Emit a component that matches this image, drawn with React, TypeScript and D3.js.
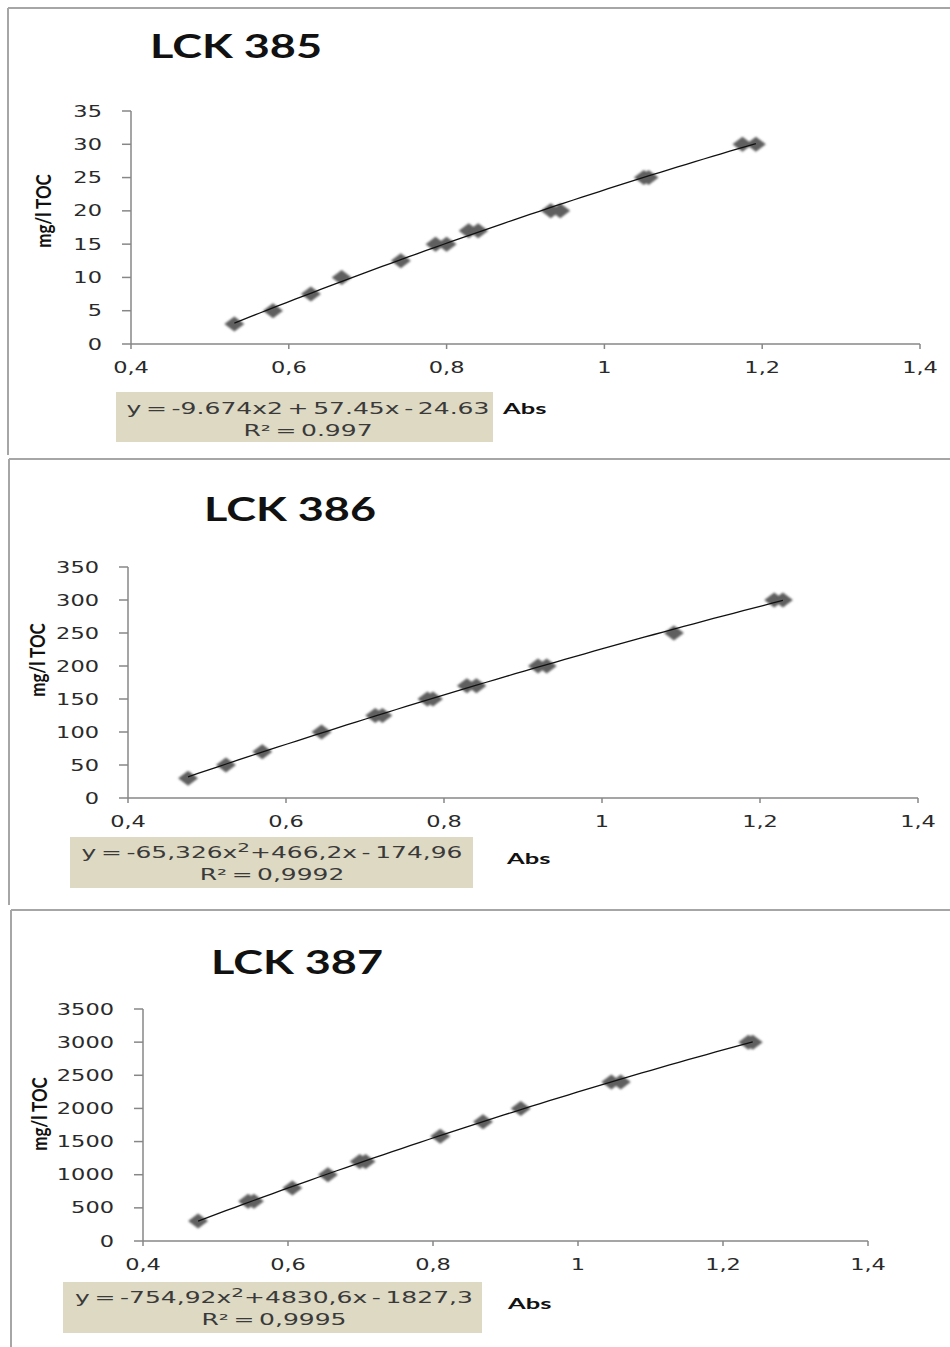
import { useEffect, useRef } from "react";
import * as d3 from "d3";

// calibration series (absorbance vs mg/l TOC)
const titles = ["LCK 385", "LCK 386", "LCK 387"];

const abs385 = [0.531, 0.58, 0.628, 0.667, 0.742, 0.786, 0.8, 0.828, 0.84, 0.932, 0.944, 1.05, 1.056, 1.175, 1.192];
const toc385 = [3, 5, 7.5, 10, 12.5, 15, 15, 17, 17, 20, 20, 25, 25, 30, 30];

const abs386 = [0.476, 0.524, 0.57, 0.645, 0.713, 0.722, 0.779, 0.786, 0.829, 0.841, 0.919, 0.93, 1.091, 1.218, 1.229];
const toc386 = [30, 50, 70, 100, 125, 125, 150, 150, 170, 170, 200, 200, 250, 300, 300];

const abs387 = [0.476, 0.545, 0.553, 0.606, 0.655, 0.699, 0.707, 0.81, 0.869, 0.921, 1.046, 1.059, 1.235, 1.241];
const toc387 = [300, 600, 600, 800, 1000, 1200, 1200, 1580, 1800, 2000, 2400, 2400, 3000, 3000];

const yMax = [35, 350, 3500];
const yStep = [5, 50, 500];
const xTicks = [0.4, 0.6, 0.8, 1, 1.2, 1.4];

// trendline coefficients as shown in the equation boxes (a*x^2 + b*x + c)
const fitCoef = [
  [-9.674, 57.45, -24.63],
  [-65.326, 466.2, -174.96],
  [-754.92, 4830.6, -1827.3],
];
const eqLine1 = [
  ["y = -9.674x2 + 57.45x - 24.63"],
  ["y = -65,326x", "2", "+466,2x - 174,96"],
  ["y = -754,92x", "2", "+4830,6x - 1827,3"],
];
const eqLine2 = ["R² = 0.997", "R² = 0,9992", "R² = 0,9995"];
const yLabel = "mg/l TOC";
const xLabel = "Abs";

// page geometry of the three pasted charts
const layout = [
  { top: 8, left: 8, bottom: 455, x0: 131, x1: 920, yTop: 111, yBot: 344, titleX: 150, titleY: 58, titleW: 172, labX: 43, labY: 211, box: [116, 392, 377, 50], eqCx: 308, eqW: 363, eqY: 414, absX: 503 },
  { top: 459, left: 9, bottom: 905, x0: 128, x1: 918, yTop: 567, yBot: 798, titleX: 204, titleY: 521, titleW: 172, labX: 37, labY: 660, box: [70, 837, 403, 51], eqCx: 272, eqW: 381, eqY: 858, absX: 507 },
  { top: 910, left: 11, bottom: 1347, x0: 143, x1: 868, yTop: 1009, yBot: 1241, titleX: 211, titleY: 974, titleW: 172, labX: 39, labY: 1114, box: [63, 1282, 419, 51], eqCx: 274, eqW: 398, eqY: 1303, absX: 508 },
];

const SX = 1.5; // the source screenshot is stretched horizontally
const TICK_FONT = "'DejaVu Sans', Verdana, sans-serif";
const TITLE_FONT = "Lato, 'Open Sans', sans-serif";

export default function App() {
  const svgRef = useRef<SVGSVGElement>(null);

  useEffect(() => {
    if (!svgRef.current) return;
    const svg = d3.select(svgRef.current);
    svg.selectAll("*").remove();

    const defs = svg.append("defs");
    defs
      .append("filter")
      .attr("id", "soft")
      .attr("x", "-20%")
      .attr("y", "-20%")
      .attr("width", "140%")
      .attr("height", "140%")
      .append("feGaussianBlur")
      .attr("stdDeviation", 0.8);

    const series = [
      { abs: abs385, toc: toc385 },
      { abs: abs386, toc: toc386 },
      { abs: abs387, toc: toc387 },
    ];

    series.forEach((s, i) => {
      const L = layout[i];
      const g = svg.append("g");

      // frame lines of the pasted chart
      g.append("line")
        .attr("x1", L.left).attr("x2", 950)
        .attr("y1", L.top).attr("y2", L.top)
        .attr("stroke", "#a6a6a6").attr("stroke-width", 2);
      g.append("line")
        .attr("x1", L.left).attr("x2", L.left)
        .attr("y1", L.top).attr("y2", L.bottom)
        .attr("stroke", "#a6a6a6").attr("stroke-width", 2);

      const x = d3.scaleLinear().domain([0.4, 1.4]).range([L.x0, L.x1]);
      const y = d3.scaleLinear().domain([0, yMax[i]]).range([L.yBot, L.yTop]);
      const yTicks = d3.range(0, yMax[i] + yStep[i] / 2, yStep[i]);

      // title
      g.append("text")
        .attr("x", L.titleX)
        .attr("y", L.titleY)
        .attr("font-family", TITLE_FONT)
        .attr("font-weight", "700")
        .attr("font-size", 32)
        .attr("fill", "#111")
        .attr("textLength", L.titleW)
        .attr("lengthAdjust", "spacingAndGlyphs")
        .text(titles[i]);

      // axes
      const axisColor = "#878787";
      g.append("line")
        .attr("x1", L.x0).attr("x2", L.x0)
        .attr("y1", y(yMax[i])).attr("y2", y(0))
        .attr("stroke", axisColor).attr("stroke-width", 1.5);
      g.append("line")
        .attr("x1", x(0.4)).attr("x2", x(1.4))
        .attr("y1", y(0)).attr("y2", y(0))
        .attr("stroke", axisColor).attr("stroke-width", 1.5);

      yTicks.forEach((t) => {
        g.append("line")
          .attr("x1", L.x0 - 9).attr("x2", L.x0)
          .attr("y1", y(t)).attr("y2", y(t))
          .attr("stroke", axisColor).attr("stroke-width", 1.5);
        g.append("text")
          .attr("transform", `translate(${L.x0 - 29},${y(t) + 5.5}) scale(${SX},1)`)
          .attr("text-anchor", "end")
          .attr("font-family", TICK_FONT)
          .attr("font-size", 15)
          .attr("fill", "#2a2a2a")
          .text(String(t));
      });

      xTicks.forEach((t) => {
        g.append("line")
          .attr("x1", x(t)).attr("x2", x(t))
          .attr("y1", y(0)).attr("y2", y(0) + 5)
          .attr("stroke", axisColor).attr("stroke-width", 1.5);
        g.append("text")
          .attr("transform", `translate(${x(t)},${y(0) + 29}) scale(${SX},1)`)
          .attr("text-anchor", "middle")
          .attr("font-family", TICK_FONT)
          .attr("font-size", 15)
          .attr("fill", "#2a2a2a")
          .text(String(t).replace(".", ","));
      });

      // y axis title
      g.append("text")
        .attr("transform", `translate(${L.labX},${L.labY}) scale(1.2,1) rotate(-90)`)
        .attr("text-anchor", "middle")
        .attr("dominant-baseline", "central")
        .attr("font-family", TITLE_FONT)
        .attr("font-weight", "700")
        .attr("font-size", 17)
        .attr("fill", "#111")
        .text(yLabel);

      // data markers
      const pts = s.abs.map((a, k) => ({ a, c: s.toc[k] }));
      const hw = 10;
      const hh = 7.5;
      g.append("g")
        .attr("filter", "url(#soft)")
        .selectAll("path")
        .data(pts)
        .enter()
        .append("path")
        .attr("d", (d) => {
          const cx = x(d.a);
          const cy = y(d.c);
          return `M${cx - hw},${cy}L${cx},${cy - hh}L${cx + hw},${cy}L${cx},${cy + hh}Z`;
        })
        .attr("fill", "#5e5e5e");

      // polynomial trendline from the shown coefficients
      const [a2, a1, a0] = fitCoef[i];
      const [xmin, xmax] = d3.extent(s.abs) as [number, number];
      const xs = d3.range(0, 61).map((k) => xmin + ((xmax - xmin) * k) / 60);
      const line = d3
        .line<number>()
        .x((v) => x(v))
        .y((v) => y(a2 * v * v + a1 * v + a0));
      g.append("path")
        .attr("d", line(xs))
        .attr("fill", "none")
        .attr("stroke", "#111")
        .attr("stroke-width", 1.3);

      // equation box
      const [bx, by, bw, bh] = L.box;
      g.append("rect")
        .attr("x", bx).attr("y", by)
        .attr("width", bw).attr("height", bh)
        .attr("fill", "#ddd9c3");

      const eq = g
        .append("text")
        .attr("text-anchor", "middle")
        .attr("font-family", TICK_FONT)
        .attr("font-size", 15)
        .attr("word-spacing", -2)
        .attr("fill", "#3a3a3a");
      const parts = eqLine1[i];
      eq.append("tspan").text(parts[0]);
      if (parts.length > 1) {
        eq.append("tspan").attr("dy", -6).attr("font-size", 12).text(parts[1]);
        eq.append("tspan").attr("dy", 6).text(parts[2]);
      }
      const natural = (eq.node() as SVGTextElement).getComputedTextLength() || 1;
      const sx = L.eqW / natural;
      eq.attr("transform", `translate(${L.eqCx},${L.eqY}) scale(${sx},1)`);

      g.append("text")
        .attr("transform", `translate(${L.eqCx},${L.eqY + 22}) scale(${sx},1)`)
        .attr("text-anchor", "middle")
        .attr("font-family", TICK_FONT)
        .attr("font-size", 15)
        .attr("word-spacing", -2)
        .attr("fill", "#3a3a3a")
        .text(eqLine2[i]);

      // x axis title sits beside the box
      g.append("text")
        .attr("transform", `translate(${L.absX},${L.eqY + (i === 0 ? 0 : 6)}) scale(1.7,1)`)
        .attr("font-family", TITLE_FONT)
        .attr("font-weight", "700")
        .attr("font-size", 15)
        .attr("fill", "#111")
        .text(xLabel);
    });
  }, []);

  return (
    <svg
      ref={svgRef}
      width={950}
      height={1347}
      style={{ position: "absolute", left: 0, top: 0, background: "#fff" }}
    />
  );
}
